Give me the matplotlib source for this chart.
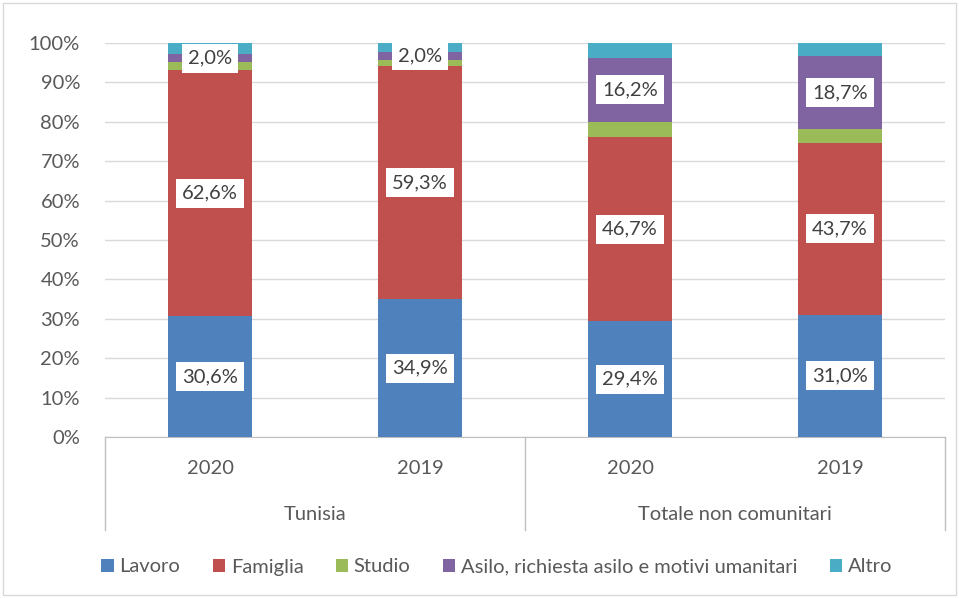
import numpy as np
import matplotlib.pyplot as plt
from matplotlib.patches import Rectangle

plt.rcParams['font.family'] = ['Lato', 'DejaVu Sans']

# dati
anni = ['2020', '2019', '2020', '2019']
gruppi = ['Tunisia', 'Totale non comunitari']
serie = ['Lavoro', 'Famiglia', 'Studio', 'Asilo, richiesta asilo e motivi umanitari', 'Altro']
lavoro = [30.6, 34.9, 29.4, 31.0]
famiglia = [62.6, 59.3, 46.7, 43.7]
studio = [1.9, 1.6, 3.9, 3.4]
asilo = [2.0, 2.0, 16.2, 18.7]
altro = [2.9, 2.2, 3.8, 3.2]
colori = ['#4F81BD', '#C0504D', '#9BBB59', '#8064A2', '#4BACC6']
con_etichetta = [True, True, False, True, False]

W, H = 959, 598
fig = plt.figure(figsize=(W / 100, H / 100), dpi=100)
ax = fig.add_axes([105 / W, 1 - 437 / H, (945 - 105) / W, (437 - 43) / H])

fs = 14.5
x = np.arange(len(anni))
base = np.zeros(len(anni))
grigio = '#595959'
for valori, col, nome, lab in zip([lavoro, famiglia, studio, asilo, altro], colori, serie, con_etichetta):
    valori = np.array(valori)
    ax.bar(x, valori, bottom=base, width=0.4, color=col, label=nome, zorder=3)
    if lab:
        for xi, b, v in zip(x, base, valori):
            ax.text(xi, b + v / 2, f'{v:.1f}%'.replace('.', ','), ha='center', va='center',
                    fontsize=fs, color='#404040', zorder=5,
                    bbox=dict(boxstyle='square,pad=0.3', fc='white', ec='none'))
    base = base + valori

ax.set_xlim(-0.5, 3.5)
ax.set_ylim(0, 100)
ax.set_yticks(np.arange(0, 101, 10))
ax.set_yticklabels([f'{t}%' for t in range(0, 101, 10)], fontsize=fs, color=grigio)
ax.tick_params(axis='y', length=0, pad=18)
ax.set_xticks([])
ax.grid(axis='y', color='#D9D9D9', linewidth=1, zorder=0)
for s in ['left', 'right', 'top']:
    ax.spines[s].set_visible(False)
ax.spines['bottom'].set_color('#BFBFBF')

# asse categorie a due livelli
trans = ax.get_xaxis_transform()
for xs in [-0.5, 1.5, 3.5]:
    ax.plot([xs, xs], [0, -93 / 394], transform=trans, color='#BFBFBF', lw=1, clip_on=False)
for xi, a in zip(x, anni):
    ax.text(xi, -31 / 394, a, transform=trans, ha='center', va='center', fontsize=fs, color=grigio)
for gi, g in enumerate(gruppi):
    ax.text(0.5 + 2 * gi, -78 / 394, g, transform=trans, ha='center', va='center', fontsize=fs, color=grigio)

leg = fig.legend(loc='center', bbox_to_anchor=(0.518, 1 - 567 / H), ncol=5, frameon=False,
                 fontsize=fs, handlelength=0.6, handleheight=0.6, handletextpad=0.3,
                 columnspacing=1.6, labelcolor=grigio)

fig.patches.append(Rectangle((3 / W, 3 / H), 1 - 6 / W, 1 - 6 / H, transform=fig.transFigure,
                             fill=False, ec='#D9D9D9', lw=1))

fig.savefig('out.png', dpi=100)
